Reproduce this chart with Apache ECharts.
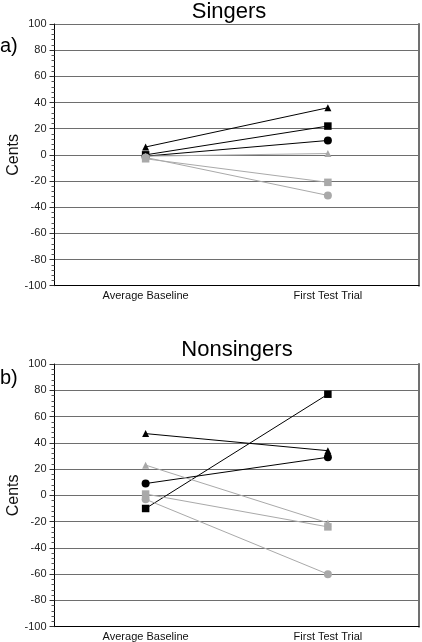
<!DOCTYPE html>
<html>
<head>
<meta charset="utf-8">
<script src="https://cdn.jsdelivr.net/npm/echarts@6/dist/echarts.min.js"></script>
<style>html,body{margin:0;padding:0;background:#fff}#c{width:422px;height:642px}</style>
</head>
<body>
<div id="c"></div>
<script>
const categories = ['Average Baseline', 'First Test Trial'];
const yTicks = { min: -100, max: 100, interval: 20 };

// Singers
const singersBlackTriangle = [6, 36];
const singersBlackSquare = [0, 22];
const singersBlackCircle = [-1, 11];
const singersGrayTriangle = [-1, 1];
const singersGraySquare = [-3, -21];
const singersGrayCircle = [-2, -31];

// Nonsingers
const nonBlackTriangle = [47, 34];
const nonBlackSquare = [-10, 77];
const nonBlackCircle = [9, 29];
const nonGrayTriangle = [23, -21];
const nonGraySquare = [1, -24];
const nonGrayCircle = [-3, -60];

const BLACK = '#000';
const GRAY = '#a9a9a9';
const FONT = 'Liberation Sans, Arial, Helvetica, sans-serif';

function mkSeries(data, color, symbol, size, xi, yi, z) {
  return {
    type: 'line', data: data, xAxisIndex: xi, yAxisIndex: yi,
    symbol: symbol, symbolSize: size, showSymbol: true,
    lineStyle: { color: color, width: 1 },
    itemStyle: { color: color, borderWidth: 0 },
    z: z, animation: false, silent: true
  };
}
function seriesFor(arrs, xi, yi) {
  return [
    mkSeries(arrs[0], BLACK, 'triangle', 7, xi, yi, 3),
    mkSeries(arrs[1], BLACK, 'rect', 7.5, xi, yi, 3),
    mkSeries(arrs[2], BLACK, 'circle', 8, xi, yi, 3),
    mkSeries(arrs[3], GRAY, 'triangle', 7, xi, yi, 4),
    mkSeries(arrs[4], GRAY, 'rect', 7.5, xi, yi, 4),
    mkSeries(arrs[5], GRAY, 'circle', 8, xi, yi, 4)
  ];
}
function yLeft(gi) {
  return {
    type: 'value', gridIndex: gi, position: 'left',
    min: yTicks.min, max: yTicks.max, interval: yTicks.interval,
    name: 'Cents', nameLocation: 'middle', nameGap: 33, nameMoveOverlap: false,
    nameTextStyle: { fontFamily: FONT, fontSize: 16, color: '#111' },
    axisLine: { show: true, lineStyle: { color: '#000', width: 1 } },
    axisTick: { show: true, length: 5, lineStyle: { color: '#333' } },
    minorTick: { show: true, splitNumber: 5, length: 3, lineStyle: { color: '#555' } },
    axisLabel: { fontFamily: FONT, fontSize: 11, color: '#222', margin: 8 },
    splitLine: { show: true, lineStyle: { color: '#6e6e6e', width: 1 } }
  };
}
function yRight(gi) {
  return {
    type: 'value', gridIndex: gi, position: 'right',
    min: yTicks.min, max: yTicks.max, interval: yTicks.interval,
    axisLine: { show: true, lineStyle: { color: '#707070', width: 2 } },
    axisTick: { show: false }, axisLabel: { show: false }, splitLine: { show: false }
  };
}
function xAxis(gi) {
  return {
    type: 'category', gridIndex: gi, data: categories, boundaryGap: true,
    axisLine: { show: true, onZero: false, lineStyle: { color: '#000', width: 1 } },
    axisTick: { show: false },
    axisLabel: { fontFamily: FONT, fontSize: 11, color: '#111', margin: 5 },
    splitLine: { show: false }
  };
}

const chart = echarts.init(document.getElementById('c'), null, { renderer: 'canvas' });
chart.setOption({
  animation: false,
  backgroundColor: '#fff',
  title: [
    { text: 'Singers', left: 229, top: 1, textAlign: 'center', padding: 0,
      textStyle: { fontFamily: FONT, fontSize: 22, fontWeight: 'normal', color: '#000' } },
    { text: 'Nonsingers', left: 237, top: 339, textAlign: 'center', padding: 0,
      textStyle: { fontFamily: FONT, fontSize: 22, fontWeight: 'normal', color: '#000' } },
    { text: 'a)', left: 0, top: 36, padding: 0,
      textStyle: { fontFamily: FONT, fontSize: 20, fontWeight: 'normal', color: '#000' } },
    { text: 'b)', left: 0, top: 368, padding: 0,
      textStyle: { fontFamily: FONT, fontSize: 20, fontWeight: 'normal', color: '#000' } }
  ],
  grid: [
    { left: 54.5, right: 3, top: 24, height: 261.7, outerBoundsMode: 'none', containLabel: false },
    { left: 54.5, right: 3, top: 364, height: 262.7, outerBoundsMode: 'none', containLabel: false }
  ],
  xAxis: [xAxis(0), xAxis(1)],
  yAxis: [yLeft(0), yLeft(1), yRight(0), yRight(1)],
  series: [].concat(
    seriesFor([singersBlackTriangle, singersBlackSquare, singersBlackCircle,
               singersGrayTriangle, singersGraySquare, singersGrayCircle], 0, 0),
    seriesFor([nonBlackTriangle, nonBlackSquare, nonBlackCircle,
               nonGrayTriangle, nonGraySquare, nonGrayCircle], 1, 1)
  )
});
</script>
</body>
</html>
